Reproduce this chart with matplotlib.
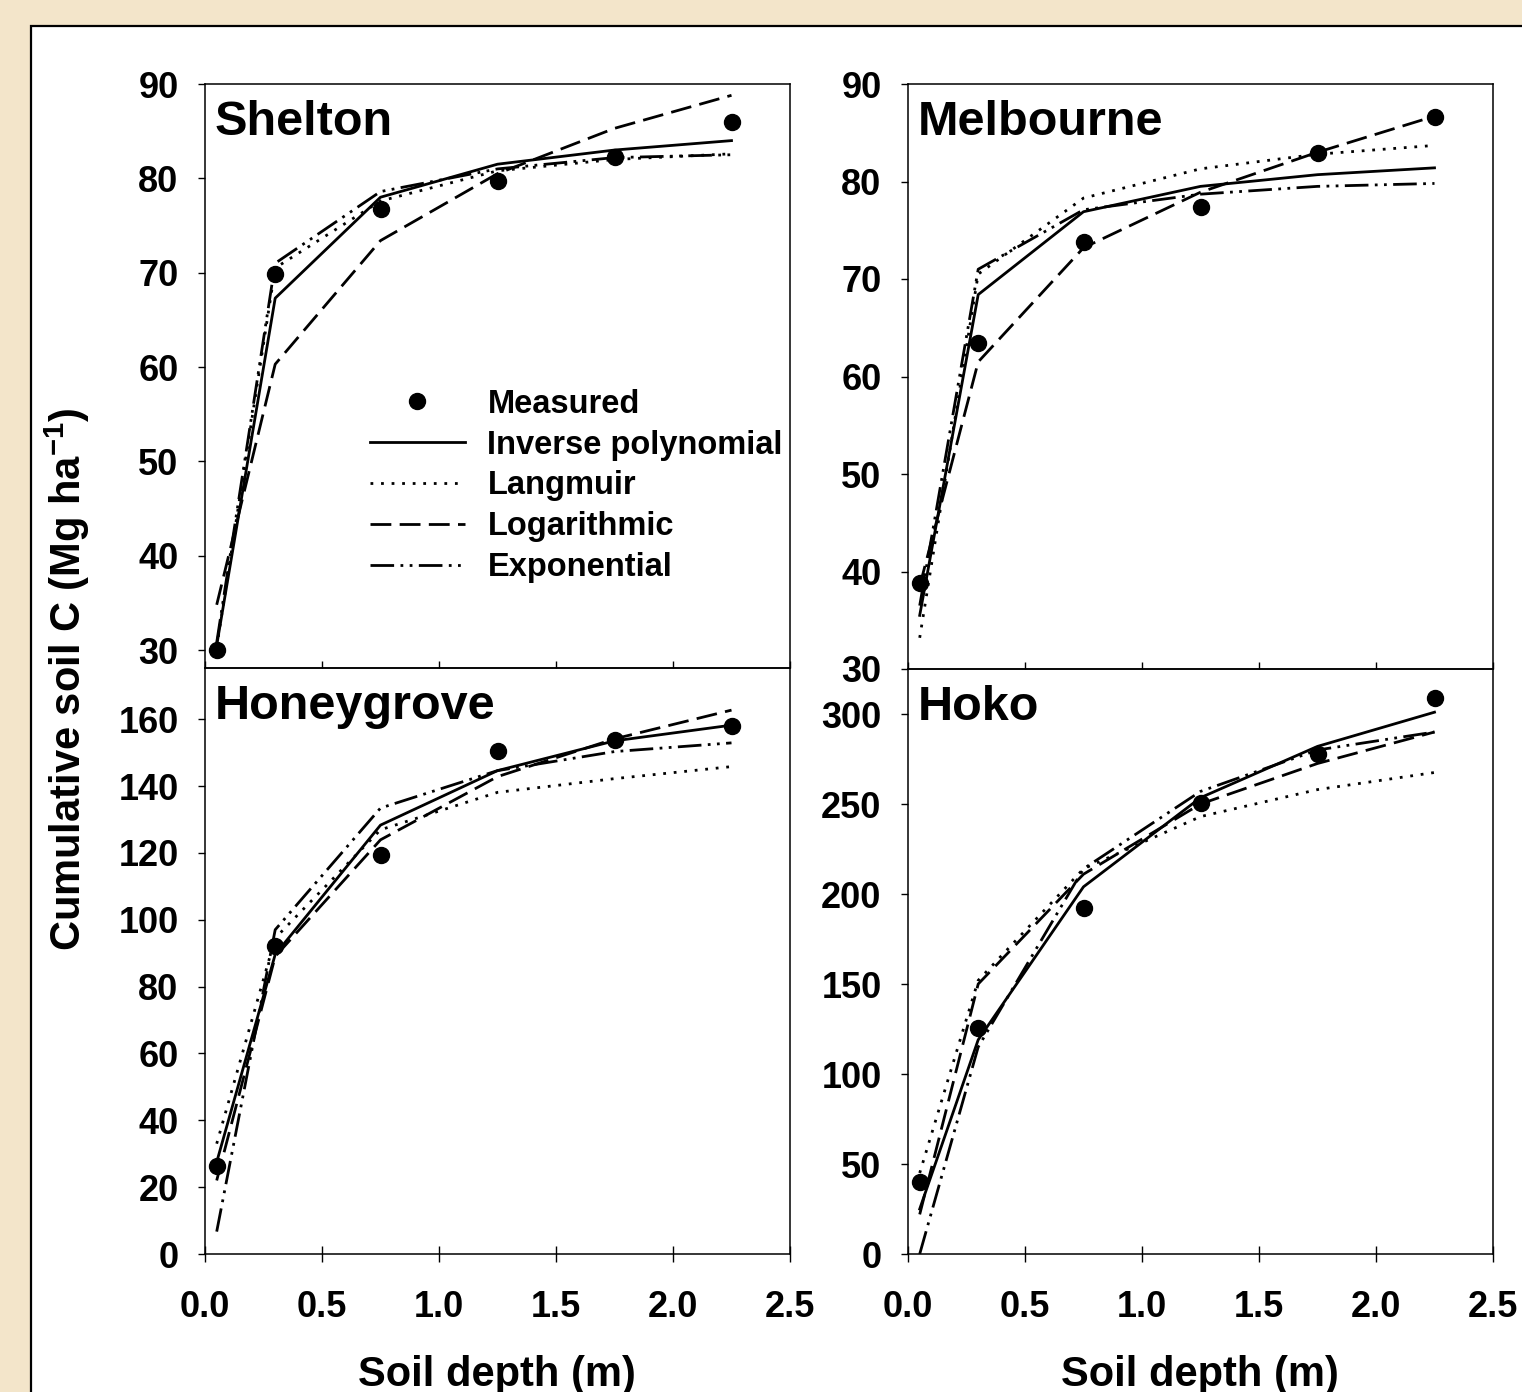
import matplotlib
matplotlib.use('Agg')
import matplotlib.pyplot as plt
from matplotlib.patches import Rectangle

# ---- data ----
depth = [0.05, 0.3, 0.75, 1.25, 1.75, 2.25]

shelton_measured = [30.0, 69.9, 76.8, 79.7, 82.3, 86.0]
shelton_invpoly = [30.5, 67.3, 78.0, 81.5, 83.0, 84.0]
shelton_langmuir = [30.3, 70.5, 77.6, 80.8, 82.0, 82.6]
shelton_log = [34.8, 60.3, 73.4, 80.5, 85.3, 88.8]
shelton_exp = [30.8, 71.0, 78.6, 81.0, 82.2, 82.5]

melbourne_measured = [38.8, 63.4, 73.8, 77.4, 82.9, 86.6]
melbourne_invpoly = [35.5, 68.4, 76.9, 79.5, 80.7, 81.4]
melbourne_langmuir = [33.2, 70.5, 78.3, 81.3, 82.8, 83.7]
melbourne_log = [38.5, 61.5, 73.2, 78.9, 83.0, 86.7]
melbourne_exp = [36.5, 71.0, 77.1, 78.7, 79.5, 79.8]

honeygrove_measured = [26.3, 92.0, 119.4, 150.5, 153.7, 158.0]
honeygrove_invpoly = [27.5, 89.6, 128.3, 144.6, 153.5, 158.2]
honeygrove_langmuir = [33.0, 94.5, 126.9, 138.1, 142.2, 145.8]
honeygrove_log = [22.0, 89.0, 123.9, 142.8, 154.1, 162.7]
honeygrove_exp = [6.7, 97.0, 133.4, 144.6, 150.3, 152.9]

hoko_measured = [40.0, 125.5, 192.0, 250.5, 278.0, 309.0]
hoko_invpoly = [25.0, 119.0, 204.0, 253.5, 282.0, 301.0]
hoko_langmuir = [45.0, 152.0, 214.0, 243.0, 258.0, 267.5]
hoko_log = [22.0, 150.0, 211.0, 250.0, 272.5, 290.0]
hoko_exp = [0.0, 115.0, 214.0, 257.0, 280.0, 290.0]

x_ticks = [0.0, 0.5, 1.0, 1.5, 2.0, 2.5]
x_ticklabels = ['0.0', '0.5', '1.0', '1.5', '2.0', '2.5']

plt.rcParams['font.family'] = ['Liberation Sans', 'DejaVu Sans']
plt.rcParams['font.weight'] = 'bold'
plt.rcParams['mathtext.fontset'] = 'custom'
plt.rcParams['mathtext.rm'] = 'Liberation Sans:bold'
plt.rcParams['mathtext.bf'] = 'Liberation Sans:bold'

W, H = 1522, 1392
fig = plt.figure(figsize=(W / 100, H / 100), dpi=100, facecolor='#F3E5CA')

# white panel with black border
panel = Rectangle((31 / W, -0.05), 1.0, 1.05 - 26 / H, transform=fig.transFigure,
                  facecolor='white', edgecolor='black', linewidth=1.6, zorder=-1)
fig.patches.append(panel)


def add_axes_px(left, top, right, bottom):
    return fig.add_axes([left / W, 1 - bottom / H, (right - left) / W, (bottom - top) / H])


def draw_panel(ax, name, measured, invpoly, langmuir, log, exp, ylim, yticks, bottom_row):
    lw = 2.0
    ax.plot(depth, invpoly, color='black', lw=lw, ls='-', label='Inverse polynomial')
    ax.plot(depth, langmuir, color='black', lw=lw, ls=(0, (1, 2.8)), label='Langmuir')
    ax.plot(depth, log, color='black', lw=lw, ls=(0, (7.5, 3)), label='Logarithmic')
    ax.plot(depth, exp, color='black', lw=lw, ls=(0, (8.5, 2.3, 1, 2.3, 1, 2.3)), label='Exponential')
    ax.plot(depth, measured, 'o', color='black', ms=11.5, ls='none', label='Measured', zorder=5)

    ax.set_xlim(0, 2.5)
    ax.set_ylim(*ylim)
    ax.set_yticks(yticks)
    ax.set_xticks(x_ticks)
    ax.set_facecolor('none')
    for sp in ax.spines.values():
        sp.set_linewidth(1.1)

    ax.tick_params(axis='y', direction='out', length=5, width=1, labelsize=26, pad=14)
    if bottom_row:
        ax.set_xticklabels(x_ticklabels)
        ax.tick_params(axis='x', direction='inout', length=12, width=1, labelsize=26, pad=20)
    else:
        ax.tick_params(axis='x', direction='in', length=5, width=1, labelbottom=False)

    ax.text(0.016, 0.972, name, transform=ax.transAxes, fontsize=35,
            fontweight='bold', ha='left', va='top')


# ==================== panels ====================
ax1 = add_axes_px(205, 84, 790, 668)
draw_panel(ax1, 'Shelton', shelton_measured, shelton_invpoly, shelton_langmuir,
           shelton_log, shelton_exp, (28.1, 90), range(30, 91, 10), False)

ax2 = add_axes_px(908, 84, 1493, 669)
draw_panel(ax2, 'Melbourne', melbourne_measured, melbourne_invpoly, melbourne_langmuir,
           melbourne_log, melbourne_exp, (30, 90), range(30, 91, 10), False)

ax3 = add_axes_px(205, 668, 790, 1254)
draw_panel(ax3, 'Honeygrove', honeygrove_measured, honeygrove_invpoly, honeygrove_langmuir,
           honeygrove_log, honeygrove_exp, (0, 175.3), range(0, 161, 20), True)

ax4 = add_axes_px(908, 669, 1493, 1254)
draw_panel(ax4, 'Hoko', hoko_measured, hoko_invpoly, hoko_langmuir,
           hoko_log, hoko_exp, (0, 325), range(0, 301, 50), True)

# legend in the Shelton panel
handles, labels = ax1.get_legend_handles_labels()
order = [4, 0, 1, 2, 3]
ax1.legend([handles[i] for i in order], [labels[i] for i in order],
           loc='upper left', bbox_to_anchor=(0.282, 0.478), frameon=False,
           fontsize=23.5, handlelength=2.9, handletextpad=0.7, labelspacing=0.3,
           borderpad=0, borderaxespad=0, numpoints=1)

# axis labels
fig.text(67 / W, 1 - 679 / H, r'Cumulative soil C (Mg ha$^{\mathbf{-1}}$)',
         rotation=90, ha='center', va='center', fontsize=30, fontweight='bold')
fig.text(497 / W, 1 - 1355 / H, 'Soil depth (m)', ha='center', va='top',
         fontsize=30, fontweight='bold')
fig.text(1200 / W, 1 - 1355 / H, 'Soil depth (m)', ha='center', va='top',
         fontsize=30, fontweight='bold')

plt.savefig('out.png', dpi=100, facecolor=fig.get_facecolor())
